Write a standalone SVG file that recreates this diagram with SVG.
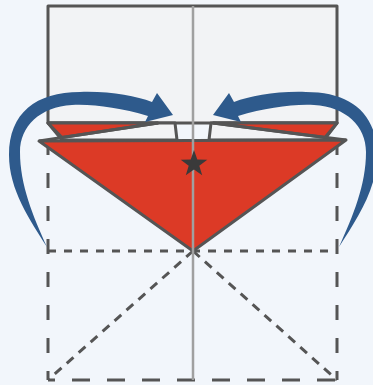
<svg xmlns="http://www.w3.org/2000/svg" width="373" height="385" viewBox="0 0 373 385">
  <style>
    .edge { fill: none; stroke: #555555; stroke-width: 3; }
    .dash-long { fill: none; stroke: #555555; stroke-width: 3; stroke-dasharray: 15 18; }
    .dash-short { fill: none; stroke: #555555; stroke-width: 3; stroke-dasharray: 8 8; }
    .dash-diag { fill: none; stroke: #555555; stroke-width: 3; stroke-dasharray: 9 7; }
    .paper { fill: #f2f3f5; stroke: #555555; stroke-width: 3; stroke-linejoin: round; }
    .red { fill: #dc3a26; stroke: #555555; stroke-width: 3; stroke-linejoin: round; }
    .crease { fill: none; stroke: #a0a0a0; stroke-width: 2.5; }
    .arrow { fill: #2e5a8c; }
  </style>
  <rect x="0" y="0" width="373" height="385" fill="#f2f6fb"/>

  <g id="base-outline">
    <line class="dash-long" x1="48" y1="140" x2="48" y2="380"/>
    <line class="dash-long" x1="337" y1="140" x2="337" y2="380"/>
    <line class="dash-long" x1="48" y1="380" x2="337" y2="380" style="stroke-dasharray:18 17;stroke-dashoffset:11"/>
    <line class="dash-short" x1="48" y1="251" x2="337" y2="251"/>
    <line class="dash-diag" x1="193" y1="251" x2="48" y2="380"/>
    <line class="dash-diag" x1="193" y1="251" x2="337" y2="380"/>
  </g>

  <g id="top-panel">
    <rect class="paper" x="48" y="6" width="289" height="117" stroke-linejoin="miter"/>
  </g>

  <g id="left-flap">
    <polygon class="paper" points="48,123 175,123 177,140 62,140"/>
    <polygon class="red" points="48,123 158,123 62,137.5"/>
    <line class="edge" x1="39" y1="141" x2="158" y2="123"/>
  </g>

  <g id="right-flap">
    <polygon class="paper" points="337,123 211,123 209,140 324,140"/>
    <polygon class="red" points="337,123 213,123 325,137.5"/>
    <line class="edge" x1="346" y1="140" x2="213" y2="123"/>
  </g>

  <g id="triangle">
    <polygon class="red" points="39,141 346,140 193,251"/>
  </g>

  <g id="center-crease">
    <line class="crease" x1="193" y1="6" x2="193" y2="380"/>
  </g>

  <g id="star">
    <polygon fill="#3a3a3a" points="194,150 197.3,159.5 207.3,159.7 199.3,165.7 202.2,175.3 194,169.6 185.8,175.3 188.7,165.7 180.7,159.7 190.7,159.5"/>
  </g>

  <g id="connectors">
    <path class="arrow" d="M47,247 C30,220 9,190 9,155 C9,113 36,92 80,92 C110,91 135,96 152,102 L157,93 L173,115 L145,122 L148,116 C120,108 95,104 72,105 C40,107 20,126 20,152 C20,185 33,216 47,247 Z"/>
    <path class="arrow" transform="matrix(-1,0,0,1,386,0)" d="M47,247 C30,220 9,190 9,155 C9,113 36,92 80,92 C110,91 135,96 152,102 L157,93 L173,115 L145,122 L148,116 C120,108 95,104 72,105 C40,107 20,126 20,152 C20,185 33,216 47,247 Z"/>
  </g>
</svg>
